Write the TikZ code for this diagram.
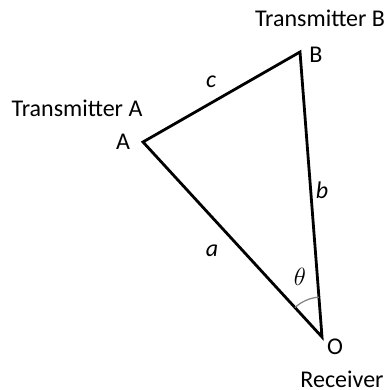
\documentclass[tikz,border=0pt]{standalone}
\usepackage{fontspec}
\setmainfont{Carlito}
\usetikzlibrary{angles}
\begin{document}
\begin{tikzpicture}[x=1pt,y=1pt,
  lbl/.style={inner sep=0pt,font=\fontsize{24}{28}\selectfont},
  side/.style={inner sep=0pt,font=\fontsize{24}{28}\selectfont\itshape},
  edge/.style={line width=2.8pt}]
\useasboundingbox (0,0) rectangle (389,390);
\coordinate (A) at (143,248);
\coordinate (B) at (300,338);
\coordinate (O) at (322,53);
\draw[edge] (A) -- (B) -- (O) -- cycle;
\pic[draw=gray,line width=1.2pt,angle radius=40pt] {angle=B--O--A};
\node[lbl] (tA) at (77,282) {Transmitter A};
\node[lbl] (lA) at (123,248) {A};
\node[lbl] (tB) at (320,372) {Transmitter B};
\node[lbl] (lB) at (316,335) {B};
\node[lbl] (lO) at (335,43) {O};
\node[lbl] (rc) at (342,11) {Receiver};
\node[side] (c) at (211,308) {c};
\node[side] (b) at (322,200) {b};
\node[side] (a) at (212,139) {a};
\node[inner sep=0pt,font=\fontsize{24}{28}\selectfont] (th) at (300,113) {$\theta$};
\end{tikzpicture}
\end{document}
